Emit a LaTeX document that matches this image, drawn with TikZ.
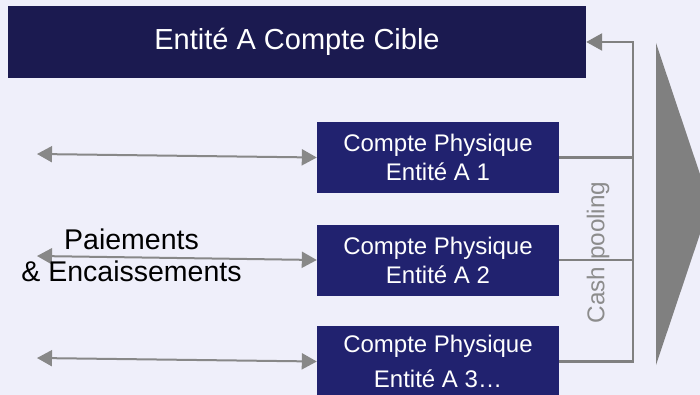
\documentclass[tikz,border=0pt]{standalone}
\usepackage{fontspec}
\setmainfont{Liberation Sans}
\usetikzlibrary{arrows.meta}
\definecolor{bg}{RGB}{239,239,250}
\definecolor{navyA}{RGB}{27,26,80}
\definecolor{navyB}{RGB}{33,34,111}
\definecolor{linegray}{RGB}{128,128,128}
\definecolor{arrgray}{RGB}{136,136,136}
\definecolor{txtgray}{RGB}{140,140,140}
\begin{document}
\begin{tikzpicture}[x=1pt,y=-1pt,
  topbox/.style={fill=navyA,text=white,inner sep=0pt,minimum width=578pt,minimum height=72pt,font=\fontsize{29}{34}\selectfont},
  acct/.style={fill=navyB,text=white,inner sep=0pt,minimum width=242pt,minimum height=71pt,align=center,font=\fontsize{24}{29}\selectfont},
  dbl/.style={draw=arrgray,line width=2pt,{Triangle[length=15pt,width=16pt]}-{Triangle[length=15pt,width=16pt]}},
  conn/.style={draw=linegray,line width=2.5pt},
  lbl/.style={align=center,font=\fontsize{28.5}{32}\selectfont},
]
\fill[bg] (0,0) rectangle (700,395);
\useasboundingbox (0,0) rectangle (700,395);
\clip (0,0) rectangle (700,395);

\node[topbox] (cible) at (297,42) {Entité A Compte Cible};
\node[acct] (b1) at (438,157.5) {Compte Physique\\Entité A 1};
\node[acct] (b2) at (438,260) {Compte Physique\\Entité A 2};
\node[acct,font=\fontsize{24}{35}\selectfont] (b3) at (438,361.5) {Compte Physique\\Entité A 3\ldots};

\coordinate (l1) at (37,154);
\coordinate (l2) at (37,256);
\coordinate (l3) at (37,358);
\draw[dbl] (l1) -- (b1.west);
\draw[dbl] (l2) -- (b2.west);
\draw[dbl] (l3) -- (b3.west);

\coordinate (bustop) at (633,42);
\draw[conn] (b1.east) -- (b1.east -| bustop);
\draw[conn] (b2.east) -- (b2.east -| bustop);
\draw[conn,-{Triangle[length=16pt,width=17pt]}] (b3.east) -- (b3.east -| bustop) -- (bustop) -- (cible.east);

\node[rotate=90,text=txtgray,font=\fontsize{24.3}{28}\selectfont] (cp) at (598,252.5) {Cash pooling};
\node[lbl] (pe) at (131.5,255) {Paiements\\\& Encaissements};

\fill[linegray] (656,43) -- (710,204) -- (656,365) -- cycle;
\end{tikzpicture}
\end{document}
